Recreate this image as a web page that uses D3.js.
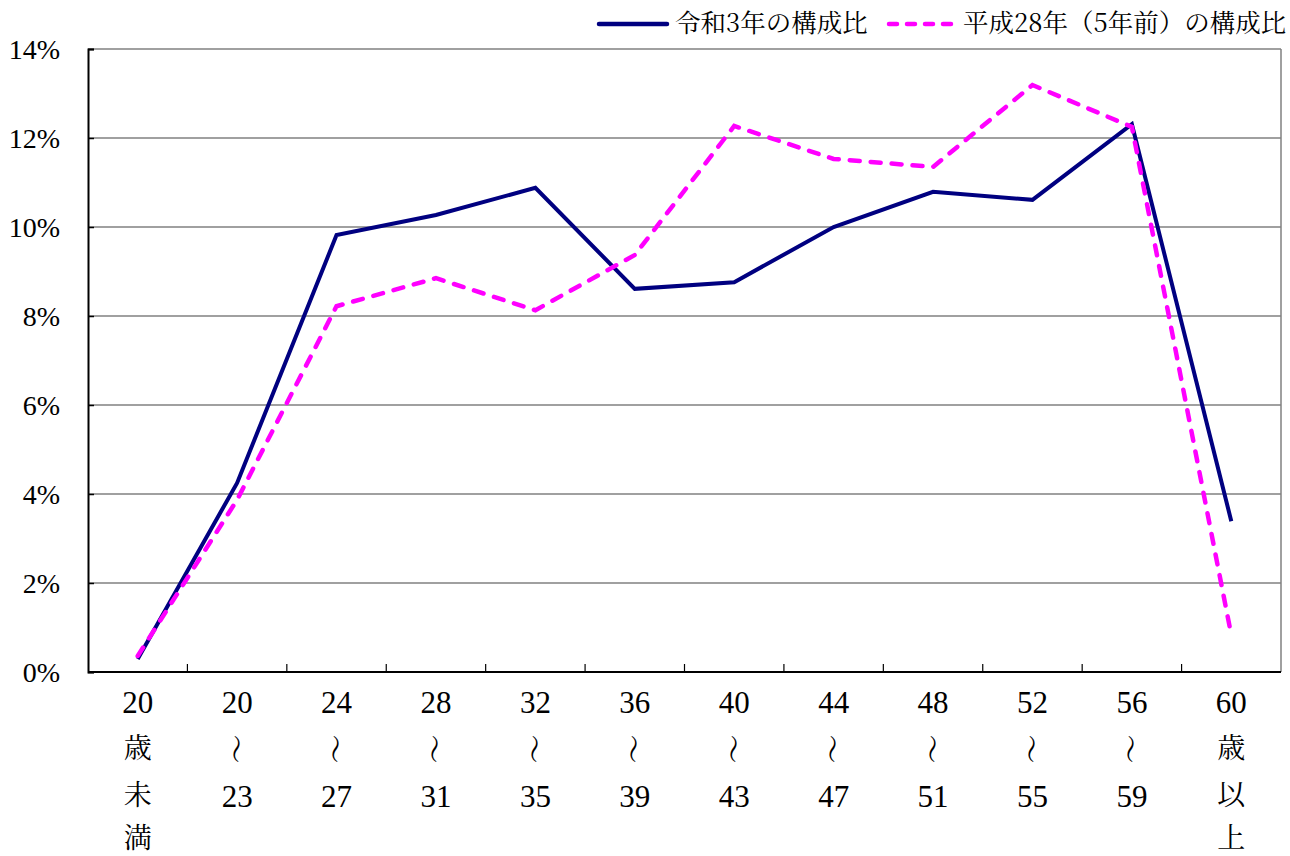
<!DOCTYPE html>
<html>
<head>
<meta charset="utf-8">
<script src="https://cdn.jsdelivr.net/npm/d3@7"></script>
<style>
body { margin:0; background:#fff; }
</style>
</head>
<body>
<div id="chart"></div>
<script>
// category labels, each split into lines (drawn vertically), "〜" is turned upright
var categories = [
  ["20","歳","未","満"],
  ["20","〜","23"],
  ["24","〜","27"],
  ["28","〜","31"],
  ["32","〜","35"],
  ["36","〜","39"],
  ["40","〜","43"],
  ["44","〜","47"],
  ["48","〜","51"],
  ["52","〜","55"],
  ["56","〜","59"],
  ["60","歳","以","上"]
];
var seriesNames = ["令和3年の構成比", "平成28年（5年前）の構成比"];
var currentValues = [0.29, 4.25, 9.82, 10.27, 10.88, 8.61, 8.76, 10.0, 10.79, 10.61, 12.31, 3.39];
var pastValues    = [0.36, 3.87, 8.22, 8.85, 8.13, 9.37, 12.27, 11.53, 11.35, 13.19, 12.25, 0.83];
var yTicks = [0, 2, 4, 6, 8, 10, 12, 14];

var serifFont = "'Liberation Serif', 'Noto Serif CJK JP', serif";
var cjkFont = "'Noto Serif CJK JP', 'Liberation Serif', serif";

var width = 1290, height = 856;
var margin = {left: 88, right: 9, top: 49, bottom: 184};

var svg = d3.select("#chart").append("svg")
    .attr("width", width)
    .attr("height", height);

var x = d3.scaleBand()
    .domain(d3.range(categories.length))
    .range([margin.left, width - margin.right]);

var y = d3.scaleLinear()
    .domain([0, 14])
    .range([height - margin.bottom, margin.top]);

//grid lines
svg.append("g").selectAll("line")
    .data(yTicks.filter(function(d){ return d > 0; }))
    .enter().append("line")
    .attr("x1", margin.left).attr("x2", width - margin.right)
    .attr("y1", function(d){ return y(d); })
    .attr("y2", function(d){ return y(d); })
    .style("stroke", "#808080")
    .style("stroke-width", 1.5);

//right border
svg.append("line")
    .attr("x1", width - margin.right).attr("x2", width - margin.right)
    .attr("y1", margin.top).attr("y2", height - margin.bottom)
    .style("stroke", "#808080").style("stroke-width", 1.5);

//y axis
var yAxis = svg.append("g")
    .attr("transform", "translate(" + margin.left + ",0)")
    .call(d3.axisLeft(y).tickValues(yTicks).tickSize(-6).tickPadding(28)
        .tickFormat(function(d){ return d + "%"; }));
yAxis.select(".domain").style("stroke", "#000").style("stroke-width", 2);
yAxis.selectAll(".tick line").style("stroke", "#000").style("stroke-width", 1.5);
yAxis.selectAll("text")
    .attr("x", -28)
    .attr("dy", "0.34em")
    .style("fill", "#000")
    .style("font-size", "28px")
    .style("font-family", serifFont);

//x axis: ticks between categories
var xb = svg.append("g");
xb.append("line")
    .attr("x1", margin.left).attr("x2", width - margin.right)
    .attr("y1", y(0)).attr("y2", y(0))
    .style("stroke", "#000").style("stroke-width", 2);
xb.selectAll("line.tk")
    .data(d3.range(1, categories.length))
    .enter().append("line")
    .attr("class", "tk")
    .attr("x1", function(d){ return x(d); })
    .attr("x2", function(d){ return x(d); })
    .attr("y1", y(0)).attr("y2", y(0) - 8)
    .style("stroke", "#000").style("stroke-width", 1.2);

var labelGroups = xb.selectAll("g.lbl")
    .data(categories)
    .enter().append("g")
    .attr("class", "lbl")
    .attr("transform", function(d, i){ return "translate(" + (x(i) + x.bandwidth() / 2) + ",0)"; });

function rowY(i) { return i == 3 ? 850 : 713 + i * 47; }

labelGroups.selectAll("text")
    .data(function(d){ return d; })
    .enter().append("text")
    .attr("text-anchor", "middle")
    .attr("dominant-baseline", function(d){ return d == "〜" ? "central" : null; })
    .attr("transform", function(d, i){
        // wave dash stands upright, centred on its row
        return d == "〜" ? "translate(0," + (rowY(i) - 11) + ") rotate(90)" : null;
    })
    .attr("y", function(d, i){ return d == "〜" ? 0 : rowY(i) - (/\d/.test(d) ? 0 : 2); })
    .style("fill", "#000")
    .style("font-family", function(d){ return /\d/.test(d) ? serifFont : cjkFont; })
    .style("font-size", function(d){ return /\d/.test(d) ? "31px" : (d == "〜" ? "29px" : "28px"); })
    .text(function(d){ return d; });

//lines
var line = d3.line()
    .x(function(d, i){ return x(i) + x.bandwidth() / 2; })
    .y(function(d){ return y(d); });

svg.append("path")
    .datum(currentValues)
    .attr("d", line)
    .style("fill", "none")
    .style("stroke", "#000080")
    .style("stroke-width", 4);

svg.append("path")
    .datum(pastValues)
    .attr("d", line)
    .style("fill", "none")
    .style("stroke", "#FF00FF")
    .style("stroke-width", 4.5)
    .style("stroke-linecap", "round")
    .style("stroke-dasharray", "10,11");

//legend
var legend = svg.append("g");
legend.append("line")
    .attr("x1", 599).attr("x2", 667).attr("y1", 24).attr("y2", 24)
    .style("stroke", "#000080").style("stroke-width", 4.5)
    .style("stroke-linecap", "round");
legend.append("text")
    .attr("x", 675).attr("y", 32)
    .style("fill", "#000")
    .style("font-family", cjkFont)
    .style("font-size", "25.5px")
    .text(seriesNames[0]);
legend.append("line")
    .attr("x1", 889).attr("x2", 956).attr("y1", 24).attr("y2", 24)
    .style("stroke", "#FF00FF").style("stroke-width", 4.5)
    .style("stroke-linecap", "round")
    .style("stroke-dasharray", "8,10");
legend.append("text")
    .attr("x", 963).attr("y", 32)
    .style("fill", "#000")
    .style("font-family", cjkFont)
    .style("font-size", "25.5px")
    .text(seriesNames[1]);
</script>
</body>
</html>
